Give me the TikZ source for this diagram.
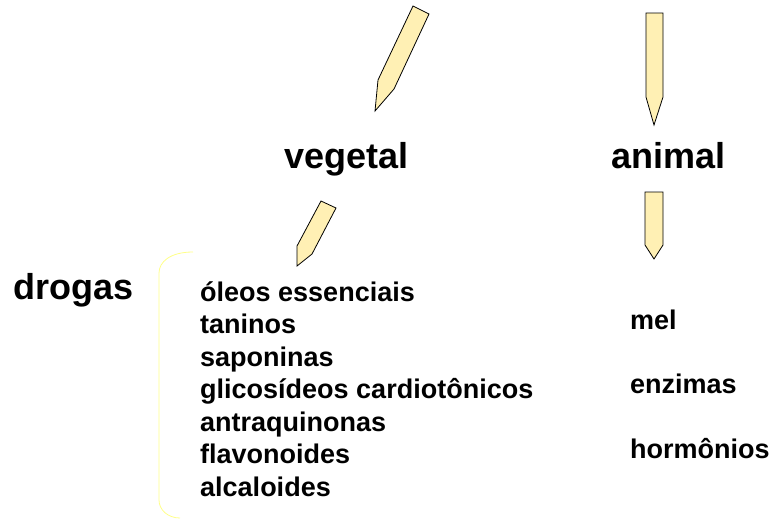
\documentclass[tikz,border=0pt]{standalone}
\usepackage{fontspec}
\setmainfont{Liberation Sans}
\definecolor{pencilfill}{HTML}{FFF0B4}
\definecolor{bracecol}{HTML}{FFFF88}
\begin{document}
\begin{tikzpicture}[x=1pt,y=-1pt,
  pencil/.style={fill=pencilfill,draw=black,line width=0.8pt,line join=miter},
  head/.style={anchor=base west,inner sep=0pt,font=\fontsize{36}{42}\selectfont\bfseries},
  item/.style={anchor=base west,inner sep=0pt,font=\fontsize{27}{32}\selectfont\bfseries}]
\useasboundingbox (0,0) rectangle (775,520);
% pencils
\draw[pencil] (413,6) -- (429,14) -- (394,89) -- (375,111) -- (378,80) -- cycle;
\draw[pencil] (646,13) -- (663,13) -- (663,97) -- (654,125) -- (646,97) -- cycle;
\draw[pencil] (321,201) -- (336,208) -- (312,254) -- (297,266) -- (297,246) -- cycle;
\draw[pencil] (645,192) -- (663,192) -- (663,245) -- (654,259) -- (645,245) -- cycle;
% brace
\draw[bracecol,line width=0.8pt] (193,252) .. controls (170,252) and (159,262) .. (159,273)
  -- (159,500) .. controls (159,510) and (168,518) .. (180,518);
% headings
\node[head] (veg) at (284,168) {vegetal};
\node[head] (ani) at (611,168) {animal};
\node[head] (dro) at (13,299) {drogas};
% vegetal list
\node[item] (i1) at (200,301) {óleos essenciais};
\node[item] (i2) at (200,333.5) {taninos};
\node[item] (i3) at (200,366) {saponinas};
\node[item] (i4) at (200,398.5) {glicosídeos cardiotônicos};
\node[item] (i5) at (200,431) {antraquinonas};
\node[item] (i6) at (200,463.5) {flavonoides};
\node[item] (i7) at (200,496) {alcaloides};
% animal list
\node[item] (a1) at (630,329) {mel};
\node[item] (a2) at (630,393) {enzimas};
\node[item] (a3) at (630,458) {hormônios};
\end{tikzpicture}
\end{document}
